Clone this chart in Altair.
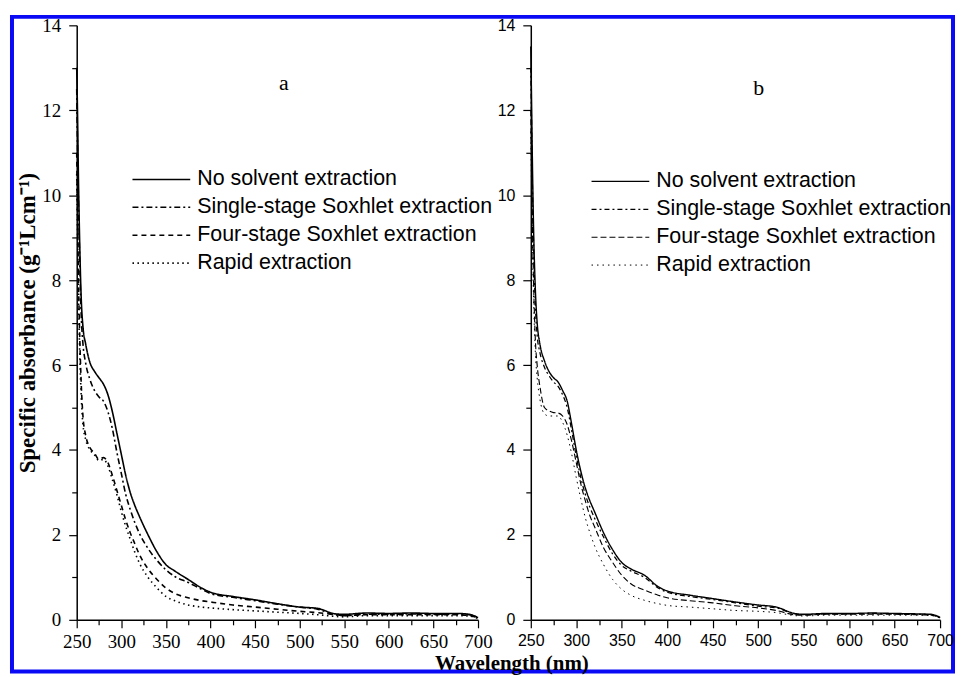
import altair as alt
import pandas as pd

WAVELENGTH = [250, 251, 252, 253, 255, 257, 260, 265, 270, 275,
              280, 285, 290, 295, 300, 305, 310, 315, 320, 330,
              340, 350, 360, 375, 390, 400, 425, 450, 475, 500,
              520, 540, 550, 575, 600, 625, 650, 675, 690, 700]

SERIES = ["No solvent extraction", "Single-stage Soxhlet extraction",
          "Four-stage Soxhlet extraction", "Rapid extraction"]

# Panel a
A_NONE = [13.0, 11.8, 10.3, 9.2, 7.6, 6.9, 6.5, 6.05, 5.85, 5.7,
          5.55, 5.3, 4.9, 4.4, 3.9, 3.4, 3.0, 2.7, 2.45, 2.0,
          1.6, 1.3, 1.15, 0.95, 0.75, 0.65, 0.55, 0.47, 0.38, 0.3,
          0.27, 0.14, 0.13, 0.16, 0.15, 0.16, 0.15, 0.15, 0.13, 0.05]
A_SINGLE = [12.5, 11.0, 9.8, 8.8, 7.2, 6.5, 6.05, 5.65, 5.4, 5.25,
            5.15, 4.9, 4.5, 3.95, 3.45, 2.95, 2.6, 2.3, 2.05, 1.68,
            1.4, 1.18, 1.02, 0.88, 0.72, 0.62, 0.53, 0.45, 0.37, 0.3,
            0.25, 0.12, 0.1, 0.13, 0.13, 0.14, 0.13, 0.13, 0.12, 0.05]
A_FOUR = [11.0, 9.5, 8.0, 7.0, 5.6, 4.8, 4.35, 4.05, 3.92, 3.78,
          3.82, 3.7, 3.4, 3.05, 2.7, 2.35, 2.05, 1.8, 1.55, 1.2,
          0.95, 0.75, 0.62, 0.52, 0.45, 0.42, 0.35, 0.3, 0.25, 0.2,
          0.17, 0.12, 0.1, 0.12, 0.12, 0.12, 0.12, 0.12, 0.1, 0.04]
A_RAPID = [10.5, 9.0, 7.6, 6.6, 5.3, 4.6, 4.25, 4.0, 3.88, 3.75,
           3.78, 3.62, 3.3, 2.95, 2.55, 2.2, 1.9, 1.6, 1.35, 1.0,
           0.75, 0.55, 0.45, 0.35, 0.3, 0.28, 0.24, 0.21, 0.18, 0.15,
           0.12, 0.08, 0.07, 0.1, 0.1, 0.1, 0.1, 0.1, 0.09, 0.03]

# Panel b
B_NONE = [13.5, 12.0, 10.5, 9.3, 7.8, 7.0, 6.5, 6.1, 5.85, 5.7,
          5.6, 5.4, 5.15, 4.6, 4.0, 3.5, 3.1, 2.8, 2.55, 2.05,
          1.65, 1.35, 1.2, 1.05, 0.78, 0.68, 0.58, 0.5, 0.42, 0.35,
          0.3, 0.15, 0.13, 0.15, 0.15, 0.16, 0.15, 0.14, 0.13, 0.06]
B_SINGLE = [13.0, 11.5, 10.0, 8.9, 7.4, 6.7, 6.3, 5.95, 5.75, 5.6,
            5.5, 5.3, 5.0, 4.45, 3.85, 3.35, 2.95, 2.65, 2.4, 1.95,
            1.55, 1.28, 1.15, 1.0, 0.75, 0.65, 0.55, 0.48, 0.4, 0.32,
            0.28, 0.14, 0.12, 0.14, 0.14, 0.15, 0.14, 0.13, 0.12, 0.05]
B_FOUR = [12.0, 10.5, 9.0, 8.0, 6.6, 6.0, 5.5, 5.0, 4.92, 4.88,
          4.87, 4.8, 4.6, 4.2, 3.7, 3.2, 2.8, 2.45, 2.2, 1.7,
          1.35, 1.05, 0.85, 0.7, 0.58, 0.52, 0.45, 0.4, 0.33, 0.28,
          0.22, 0.12, 0.11, 0.13, 0.13, 0.13, 0.13, 0.12, 0.11, 0.05]
B_RAPID = [11.5, 10.0, 8.6, 7.6, 6.3, 5.7, 5.2, 4.85, 4.8, 4.8,
           4.8, 4.65, 4.35, 3.9, 3.35, 2.85, 2.4, 2.05, 1.75, 1.3,
           0.95, 0.72, 0.58, 0.46, 0.38, 0.34, 0.3, 0.26, 0.22, 0.2,
           0.17, 0.1, 0.09, 0.11, 0.11, 0.11, 0.11, 0.11, 0.1, 0.04]

X_TICKS = list(range(250, 701, 25))
Y_TICKS = list(range(0, 15))

SERIF = "Liberation Serif"
SANS = "Liberation Sans"
FRAME_BLUE = "#0a0af5"


def long_df(series_values):
    rows = []
    for name, vals in zip(SERIES, series_values):
        for w, v in zip(WAVELENGTH, vals):
            rows.append({"Wavelength": w, "Absorbance": v, "Series": name})
    return pd.DataFrame(rows)


def panel(values, dashes, widths, tick_font, tick_size, y_title, label,
          label_xy, legend_xy, width, extra_layers=()):
    df = long_df(values)
    x_axis = alt.Axis(
        values=X_TICKS, title=None, grid=False,
        labelExpr="datum.value % 50 ? '' : datum.label",
        labelFont=tick_font, labelFontSize=tick_size, labelColor="black",
        labelPadding=5, labelOverlap=False, labelFlush=False,
        domainColor="black", domainWidth=1.5, tickColor="black", tickWidth=1.2,
        tickSize={"condition": {"test": "datum.value % 50 !== 0", "value": 5}, "value": 8},
    )
    y_kwargs = dict(
        values=Y_TICKS, grid=False,
        labelExpr="datum.value % 2 ? '' : datum.label",
        labelFont=tick_font, labelFontSize=tick_size, labelColor="black",
        labelPadding=8, labelOverlap=False, labelFlush=False,
        domainColor="black", domainWidth=1.5, tickColor="black", tickWidth=1.2,
        tickSize={"condition": {"test": "datum.value % 2 !== 0", "value": 5}, "value": 8},
    )
    if y_title:
        y_axis = alt.Axis(title=y_title, titleFont=SERIF, titleFontSize=23,
                          titleFontWeight="bold", titleColor="black",
                          titlePadding=2, **y_kwargs)
    else:
        y_axis = alt.Axis(title=None, **y_kwargs)

    lines = alt.Chart(df).mark_line(color="black", interpolate="monotone").encode(
        x=alt.X("Wavelength:Q", scale=alt.Scale(domain=[250, 700], nice=False), axis=x_axis),
        y=alt.Y("Absorbance:Q", scale=alt.Scale(domain=[0, 14], nice=False), axis=y_axis),
        strokeDash=alt.StrokeDash(
            "Series:N", sort=SERIES,
            scale=alt.Scale(domain=SERIES, range=dashes),
            legend=alt.Legend(
                orient="none", legendX=legend_xy[0], legendY=legend_xy[1],
                title=None, symbolType="stroke", symbolSize=3364,
                symbolStrokeColor="black", labelFont=SANS, labelFontSize=21.5,
                labelColor="black", labelOffset=6, rowPadding=0,
                clipHeight=27.5, labelLimit=400, padding=0,
            ),
        ),
        strokeWidth=alt.StrokeWidth(
            "Series:N", sort=SERIES,
            scale=alt.Scale(domain=SERIES, range=widths),
            legend=None,
        ),
        order=alt.Order("Wavelength:Q"),
    )

    lab = alt.Chart(pd.DataFrame({"t": [label]})).mark_text(
        font=SERIF, fontSize=22, color="black", align="center", baseline="middle"
    ).encode(text="t:N", x=alt.value(label_xy[0]), y=alt.value(label_xy[1]))

    layers = [lines, lab] + list(extra_layers)
    return alt.layer(*layers).properties(width=width, height=597)


frame = alt.Chart(pd.DataFrame({"f": [0]})).mark_rect(
    fillOpacity=0, stroke=FRAME_BLUE, strokeWidth=4
).encode(x=alt.value(-65), x2=alt.value(880), y=alt.value(-8.5), y2=alt.value(649))

xtitle = alt.Chart(pd.DataFrame({"t": ["Wavelength (nm)"]})).mark_text(
    font=SERIF, fontSize=21, fontWeight="bold", color="black",
    align="center", baseline="middle"
).encode(text="t:N", x=alt.value(437), y=alt.value(641))

panel_a = panel(
    [A_NONE, A_SINGLE, A_FOUR, A_RAPID],
    [[1, 0], [6, 3, 2, 3], [5, 4], [1.5, 3.5]],
    [1.6, 1.6, 1.4, 1.4],
    SERIF, 19, "Specific absorbance (g\u207b\u00b9Lcm\u207b\u00b9)", "a",
    (208, 58), (55, 141), 403, extra_layers=[frame, xtitle],
)

panel_b = panel(
    [B_NONE, B_SINGLE, B_FOUR, B_RAPID],
    [[1, 0], [5, 3, 2, 3], [6, 3], [1.5, 4]],
    [1.4, 1.0, 1.8, 1.3],
    SANS, 16, None, "b",
    (229, 63), (60, 143), 411,
)

chart = alt.hconcat(panel_a, panel_b, spacing=53, bounds="flush").resolve_legend(
    strokeDash="independent"
).resolve_scale(
    strokeDash="independent", strokeWidth="independent"
).properties(
    padding={"left": 2, "top": 5, "right": 0, "bottom": 0}, background="white"
).configure_view(stroke=None)

chart.save("out.html", embed_options={"renderer": "svg", "actions": False})
